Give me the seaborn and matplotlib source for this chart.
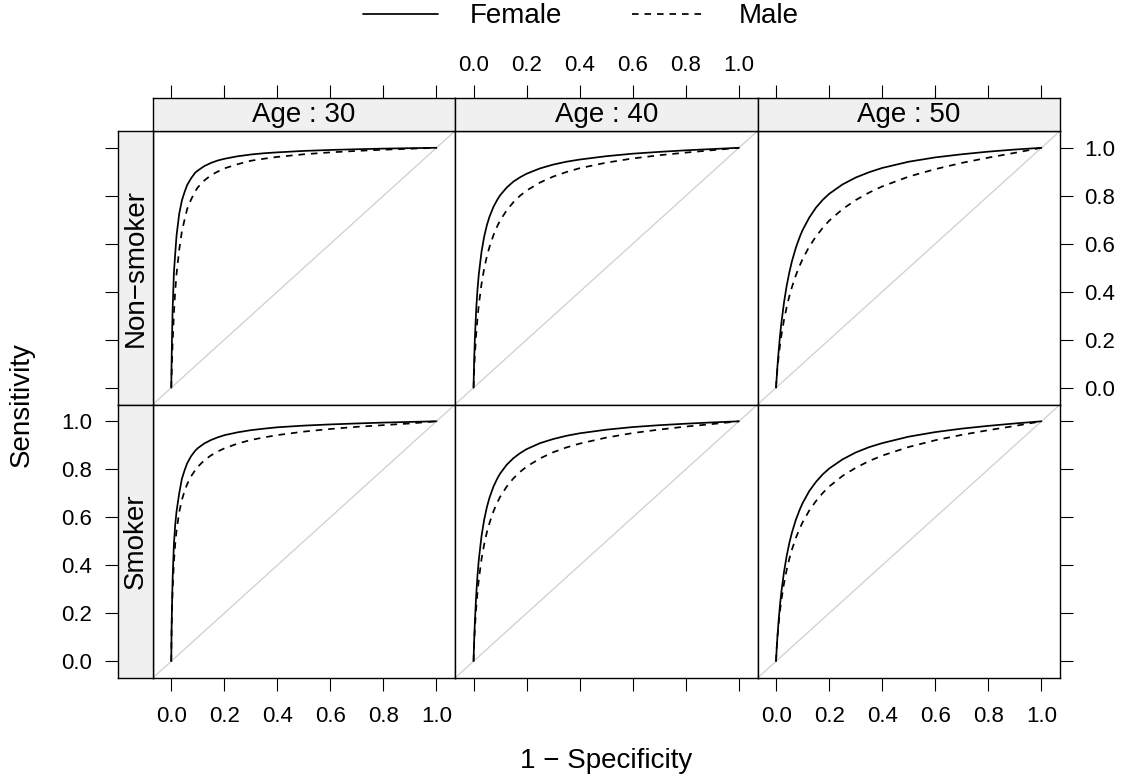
import numpy as np
import pandas as pd
import matplotlib
matplotlib.use("Agg")
import matplotlib.pyplot as plt
import seaborn as sns
from matplotlib.lines import Line2D

# ---------------- data ----------------
ages = [30, 40, 50]
smoking_levels = ["Non\u2212smoker", "Smoker"]
sexes = ["Female", "Male"]
tick_values = [0.0, 0.2, 0.4, 0.6, 0.8, 1.0]

# shared grid of 1 - specificity values at which sensitivity was read
fpr = [0, 0.001, 0.0025, 0.005, 0.01, 0.015, 0.02, 0.03, 0.04, 0.05, 0.06, 0.075,
       0.09, 0.1, 0.125, 0.15, 0.175, 0.2, 0.25, 0.3, 0.35, 0.4, 0.5, 0.6, 0.7,
       0.8, 0.9, 1.0]

sens_ns30_female = [0, 0.09, 0.19, 0.32, 0.48, 0.56, 0.635, 0.725, 0.78, 0.815, 0.845, 0.873,
                    0.896, 0.905, 0.924, 0.937, 0.947, 0.954, 0.9646, 0.972, 0.9773, 0.981,
                    0.987, 0.991, 0.994, 0.9966, 0.9984, 1]
sens_ns30_male = [0, 0.043, 0.10, 0.183, 0.31, 0.405, 0.475, 0.575, 0.651, 0.70, 0.745, 0.785,
                  0.818, 0.835, 0.864, 0.886, 0.9006, 0.914, 0.9315, 0.946, 0.9545, 0.962,
                  0.973, 0.981, 0.987, 0.992, 0.996, 1]
sens_ns40_female = [0, 0.060, 0.126, 0.21, 0.329, 0.413, 0.476, 0.567, 0.630, 0.677, 0.7126, 0.754,
                    0.7847, 0.802, 0.8345, 0.859, 0.877, 0.892, 0.914, 0.930, 0.942, 0.951,
                    0.965, 0.9755, 0.983, 0.9895, 0.9948, 1]
sens_ns40_male = [0, 0.038, 0.081, 0.138, 0.226, 0.293, 0.348, 0.433, 0.497, 0.547, 0.587, 0.636,
                  0.675, 0.697, 0.740, 0.773, 0.800, 0.822, 0.855, 0.880, 0.899, 0.915,
                  0.938, 0.9556, 0.969, 0.980, 0.990, 1]
sens_ns50_female = [0, 0.0195, 0.046, 0.087, 0.157, 0.218, 0.27, 0.356, 0.425, 0.481, 0.528, 0.585,
                    0.631, 0.657, 0.709, 0.75, 0.782, 0.808, 0.847, 0.876, 0.898, 0.916,
                    0.942, 0.960, 0.973, 0.984, 0.9927, 1]
sens_ns50_male = [0, 0.0216, 0.0457, 0.079, 0.134, 0.179, 0.218, 0.283, 0.336, 0.382, 0.420, 0.470,
                  0.5115, 0.536, 0.588, 0.630, 0.665, 0.696, 0.744, 0.782, 0.813, 0.839,
                  0.880, 0.911, 0.937, 0.959, 0.979, 1]
sens_s30_female = [0, 0.111, 0.219, 0.341, 0.489, 0.57, 0.625, 0.70, 0.76, 0.795, 0.825, 0.855,
                   0.877, 0.888, 0.908, 0.922, 0.933, 0.942, 0.954, 0.963, 0.9694, 0.975,
                   0.982, 0.987, 0.991, 0.9946, 0.9974, 1]
sens_s30_male = [0, 0.111, 0.199, 0.295, 0.414, 0.490, 0.545, 0.621, 0.672, 0.709, 0.738, 0.771,
                 0.796, 0.810, 0.838, 0.858, 0.874, 0.887, 0.907, 0.922, 0.933, 0.9425,
                 0.957, 0.968, 0.977, 0.984, 0.991, 1]
sens_s40_female = [0, 0.043, 0.095, 0.168, 0.278, 0.361, 0.426, 0.522, 0.590, 0.6415, 0.6816, 0.728,
                   0.7628, 0.782, 0.819, 0.846, 0.867, 0.884, 0.9087, 0.926, 0.9396, 0.950,
                   0.965, 0.976, 0.9838, 0.990, 0.9953, 1]
sens_s40_male = [0, 0.040, 0.082, 0.139, 0.224, 0.290, 0.343, 0.426, 0.4875, 0.537, 0.576, 0.625,
                 0.663, 0.685, 0.728, 0.762, 0.789, 0.811, 0.845, 0.871, 0.891, 0.907,
                 0.932, 0.951, 0.9655, 0.978, 0.9886, 1]
sens_s50_female = [0, 0.0248, 0.0557, 0.1007, 0.175, 0.237, 0.289, 0.373, 0.439, 0.493, 0.537, 0.591,
                   0.634, 0.659, 0.709, 0.747, 0.778, 0.803, 0.841, 0.870, 0.892, 0.909,
                   0.936, 0.955, 0.9695, 0.981, 0.991, 1]
sens_s50_male = [0, 0.0281, 0.0578, 0.098, 0.161, 0.212, 0.255, 0.325, 0.381, 0.427, 0.466, 0.515,
                 0.5555, 0.579, 0.628, 0.667, 0.700, 0.728, 0.772, 0.806, 0.834, 0.857,
                 0.893, 0.921, 0.9435, 0.963, 0.9806, 1]

curves = {
    ("Non\u2212smoker", 30, "Female"): sens_ns30_female,
    ("Non\u2212smoker", 30, "Male"): sens_ns30_male,
    ("Non\u2212smoker", 40, "Female"): sens_ns40_female,
    ("Non\u2212smoker", 40, "Male"): sens_ns40_male,
    ("Non\u2212smoker", 50, "Female"): sens_ns50_female,
    ("Non\u2212smoker", 50, "Male"): sens_ns50_male,
    ("Smoker", 30, "Female"): sens_s30_female,
    ("Smoker", 30, "Male"): sens_s30_male,
    ("Smoker", 40, "Female"): sens_s40_female,
    ("Smoker", 40, "Male"): sens_s40_male,
    ("Smoker", 50, "Female"): sens_s50_female,
    ("Smoker", 50, "Male"): sens_s50_male,
}

rows = []
for (smk, age, sex), sens in curves.items():
    for f, s in zip(fpr, sens):
        rows.append({"smoking": smk, "age": age, "sex": sex, "fpr": f, "sens": s})
df = pd.DataFrame(rows)

# ---------------- style ----------------
sns.set_style("white")
plt.rcParams["font.family"] = ["Liberation Sans", "DejaVu Sans"]
plt.rcParams["axes.linewidth"] = 1.0
for key in ["text.color", "axes.labelcolor", "xtick.color", "ytick.color", "axes.edgecolor"]:
    plt.rcParams[key] = "black"

W, H = 1128, 782
fig = plt.figure(figsize=(W / 100, H / 100), dpi=100)


def fbox(x0, y0, x1, y1):
    return [x0 / W, 1 - y1 / H, (x1 - x0) / W, (y1 - y0) / H]


col_edges = [152.7, 455.0, 757.5, 1060.0]
row_edges = [131.0, 404.5, 678.0]
strip_top = 98.0
lstrip_left = 118.0
lim = (-0.07, 1.07)
strip_color = "#f0f0f0"
TL = 9.5
TW = 0.8
TICK_FS = 16
LAB_FS = 20
LW = 1.25
tick_labels = ["%.1f" % v for v in tick_values]

line_dashes = {"Female": "", "Male": (3.8, 3.4)}


def frame(a):
    for sp in a.spines.values():
        sp.set_visible(True)
        sp.set_color("black")
        sp.set_linewidth(1.0)


for r, smk in enumerate(smoking_levels):
    for c, age in enumerate(ages):
        ax = fig.add_axes(fbox(col_edges[c], row_edges[r], col_edges[c + 1], row_edges[r + 1]))
        ax.set_facecolor("white")
        ax.axline((0, 0), (1, 1), color="#d3d3d3", lw=1.0, zorder=1)
        sub = df[(df["smoking"] == smk) & (df["age"] == age)]
        sns.lineplot(data=sub, x="fpr", y="sens", style="sex", style_order=sexes,
                     dashes=line_dashes, color="black", linewidth=LW,
                     estimator=None, sort=False, legend=False, ax=ax, zorder=2)
        ax.set_xlim(*lim)
        ax.set_ylim(*lim)
        ax.set_xlabel("")
        ax.set_ylabel("")
        frame(ax)
        ax.set_xticks(tick_values)
        ax.set_yticks(tick_values)
        ax.set_xticklabels(tick_labels)
        ax.set_yticklabels(tick_labels)
        ax.tick_params(axis="both", direction="out", length=TL, width=TW,
                       labelsize=TICK_FS, colors="black",
                       left=False, labelleft=False, top=False, labeltop=False,
                       bottom=False, labelbottom=False, right=False, labelright=False)
        if r == 1:
            ax.tick_params(axis="x", bottom=True, labelbottom=(c != 1), pad=11)
        if c == 2:
            ax.tick_params(axis="y", right=True, labelright=(r == 0), pad=8)

        # top strips (outer) for first row
        if r == 0:
            sx = fig.add_axes(fbox(col_edges[c], strip_top, col_edges[c + 1], row_edges[0]))
            sx.set_facecolor(strip_color)
            sx.set_xlim(*lim)
            sx.set_ylim(0, 1)
            sx.set_yticks([])
            sx.set_xticks(tick_values)
            sx.set_xticklabels(tick_labels)
            sx.tick_params(axis="x", direction="out", length=TL, width=TW,
                           labelsize=TICK_FS, bottom=False, labelbottom=False,
                           top=True, labeltop=(c == 1), pad=6)
            frame(sx)
            sx.text(0.5, 0.5, f"Age : {age}", transform=sx.transAxes,
                    ha="center", va="center", fontsize=LAB_FS)

    # left strips (outer)
    lx = fig.add_axes(fbox(lstrip_left, row_edges[r], col_edges[0], row_edges[r + 1]))
    lx.set_facecolor(strip_color)
    lx.set_ylim(*lim)
    lx.set_xlim(0, 1)
    lx.set_xticks([])
    lx.set_yticks(tick_values)
    lx.set_yticklabels(tick_labels)
    lx.tick_params(axis="y", direction="out", length=TL, width=TW,
                   labelsize=TICK_FS, left=True, labelleft=(r == 1),
                   right=False, labelright=False, pad=9)
    frame(lx)
    lx.text(0.5, 0.5, smk, transform=lx.transAxes, rotation=90,
            ha="center", va="center", fontsize=LAB_FS)

# axis titles
fig.text(606 / W, 1 - 761 / H, "1 \u2212 Specificity", ha="center", va="center", fontsize=LAB_FS)
fig.text(22 / W, 1 - 405 / H, "Sensitivity", ha="center", va="center",
         rotation=90, fontsize=LAB_FS)

# legend (top, two columns)
ly = 1 - 14 / H
fig.add_artist(Line2D([363 / W, 438 / W], [ly, ly], color="black", lw=LW,
                      transform=fig.transFigure))
fig.text(470 / W, 1 - 16 / H, sexes[0], ha="left", va="center", fontsize=LAB_FS)
fig.add_artist(Line2D([632 / W, 707 / W], [ly, ly], color="black", lw=LW,
                      linestyle=(0, line_dashes["Male"]), transform=fig.transFigure))
fig.text(739 / W, 1 - 16 / H, sexes[1], ha="left", va="center", fontsize=LAB_FS)

fig.savefig("out.png", dpi=100, facecolor="white")
